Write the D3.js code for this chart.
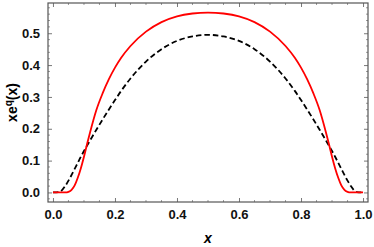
<!DOCTYPE html>
<html>
<head>
<meta charset="utf-8">
<script src="https://cdnjs.cloudflare.com/ajax/libs/d3/7.8.5/d3.min.js"></script>
<style>
  body { margin: 0; background: #fff; }
  svg text { font-family: "Liberation Sans", Arial, sans-serif; font-weight: bold; }
</style>
</head>
<body>
<div id="chart"></div>
<script>
// ---- data ----
var xs = [0, 0.02, 0.04, 0.05, 0.06, 0.07, 0.08, 0.09, 0.10, 0.11, 0.12, 0.14, 0.16, 0.18, 0.20, 0.22, 0.25, 0.30, 0.35, 0.40, 0.45, 0.50,
          0.55, 0.60, 0.65, 0.70, 0.75, 0.78, 0.80, 0.82, 0.84, 0.86, 0.88, 0.89, 0.90, 0.91, 0.92, 0.93, 0.94, 0.95, 0.96, 0.98, 1.0];
var redVals = [0, 0, 0, 0.002, 0.008, 0.022, 0.046, 0.076, 0.112, 0.152, 0.190, 0.259, 0.311, 0.355, 0.392, 0.423, 0.460, 0.505, 0.535, 0.553, 0.562, 0.565,
               0.562, 0.553, 0.535, 0.505, 0.460, 0.423, 0.392, 0.355, 0.311, 0.259, 0.190, 0.152, 0.112, 0.076, 0.046, 0.022, 0.008, 0.002, 0, 0, 0];
var blackVals = [0, 0.001, 0.021, 0.037, 0.055, 0.074, 0.093, 0.112, 0.130, 0.147, 0.164, 0.197, 0.229, 0.260, 0.290, 0.319, 0.358, 0.411, 0.450, 0.476, 0.490, 0.495,
                 0.490, 0.476, 0.450, 0.411, 0.358, 0.319, 0.290, 0.260, 0.229, 0.197, 0.164, 0.147, 0.130, 0.112, 0.093, 0.074, 0.055, 0.037, 0.021, 0.001, 0];
var xTicks = [0, 0.2, 0.4, 0.6, 0.8, 1.0];
var yTicks = [0, 0.1, 0.2, 0.3, 0.4, 0.5];

var width = 374, height = 247,
    margin = {left: 48, top: 3, right: 6, bottom: 45};

var svg = d3.select("#chart").append("svg")
    .attr("width", width)
    .attr("height", height);

var xScale = d3.scaleLinear()
    .domain([-0.016, 1.016])
    .range([margin.left, width - margin.right]);

var yScale = d3.scaleLinear()
    .domain([-0.03, 0.595])
    .range([height - margin.bottom, margin.top]);

var x0 = margin.left, x1 = width - margin.right,
    y0 = height - margin.bottom, y1 = margin.top;

var frameColor = "#555";

// minor ticks
var xMinor = d3.range(0, 1.0001, 0.05).filter(function(v){ return Math.round(v * 100) % 20 != 0; });
var yMinor = d3.range(-0.02, 0.59, 0.02).filter(function(v){ return Math.round(v * 100) % 10 != 0; });

// frame axes, ticks pointing inward
var bottomAxis = d3.axisBottom(xScale).tickValues(xTicks).tickFormat(d3.format(".1f")).tickSizeInner(-4).tickSizeOuter(0).tickPadding(8);
var topAxis = d3.axisTop(xScale).tickValues(xTicks).tickFormat("").tickSizeInner(-4).tickSizeOuter(0);
var leftAxis = d3.axisLeft(yScale).tickValues(yTicks).tickFormat(d3.format(".1f")).tickSizeInner(-4).tickSizeOuter(0).tickPadding(8);
var rightAxis = d3.axisRight(yScale).tickValues(yTicks).tickFormat("").tickSizeInner(-4).tickSizeOuter(0);

var gB = svg.append("g").attr("transform", "translate(0," + y0 + ")").call(bottomAxis);
var gT = svg.append("g").attr("transform", "translate(0," + y1 + ")").call(topAxis);
var gL = svg.append("g").attr("transform", "translate(" + x0 + ",0)").call(leftAxis);
var gR = svg.append("g").attr("transform", "translate(" + x1 + ",0)").call(rightAxis);

[gB, gT, gL, gR].forEach(function(g){
    g.select(".domain").remove();
    g.selectAll("line").attr("stroke", frameColor).attr("stroke-width", 0.8);
    g.selectAll("text").attr("font-size", 13).attr("fill", "#111")
        .style("font-family", "'Liberation Sans', Arial, sans-serif").style("font-weight", "bold");
});

// minor ticks
var minor = svg.append("g").attr("stroke", frameColor).attr("stroke-width", 0.6);
xMinor.forEach(function(v){
    minor.append("line").attr("x1", xScale(v)).attr("x2", xScale(v)).attr("y1", y0).attr("y2", y0 - 2);
    minor.append("line").attr("x1", xScale(v)).attr("x2", xScale(v)).attr("y1", y1).attr("y2", y1 + 2);
});
yMinor.forEach(function(v){
    minor.append("line").attr("y1", yScale(v)).attr("y2", yScale(v)).attr("x1", x0).attr("x2", x0 + 2);
    minor.append("line").attr("y1", yScale(v)).attr("y2", yScale(v)).attr("x1", x1).attr("x2", x1 - 2);
});

// frame
svg.append("rect")
    .attr("x", x0).attr("y", y1)
    .attr("width", x1 - x0).attr("height", y0 - y1)
    .attr("fill", "none").attr("stroke", frameColor).attr("stroke-width", 1.2);

// curves
var redData = xs.map(function(x, i){ return {x: x, y: redVals[i]}; });
var blackData = xs.map(function(x, i){ return {x: x, y: blackVals[i]}; });

var line = d3.line()
    .x(function(d){ return xScale(d.x); })
    .y(function(d){ return yScale(d.y); })
    .curve(d3.curveMonotoneX);

svg.append("path").datum(blackData)
    .attr("d", line)
    .attr("fill", "none").attr("stroke", "#000").attr("stroke-width", 1.8)
    .attr("stroke-dasharray", "5.5,3");

svg.append("path").datum(redData)
    .attr("d", line)
    .attr("fill", "none").attr("stroke", "#ff0000").attr("stroke-width", 1.8);

// axis labels
svg.append("text")
    .attr("x", xScale(0.5)).attr("y", 243)
    .attr("text-anchor", "middle")
    .attr("font-size", 14)
    .style("font-style", "italic")
    .text("x");

var yl = svg.append("text")
    .attr("transform", "translate(17," + ((y0 + y1) / 2) + ") rotate(-90)")
    .attr("text-anchor", "middle")
    .attr("font-size", 14);
yl.append("tspan").text("xe");
yl.append("tspan").attr("dy", -5).attr("font-size", 10).text("q");
yl.append("tspan").attr("dy", 5).text("(x)");
</script>
</body>
</html>
